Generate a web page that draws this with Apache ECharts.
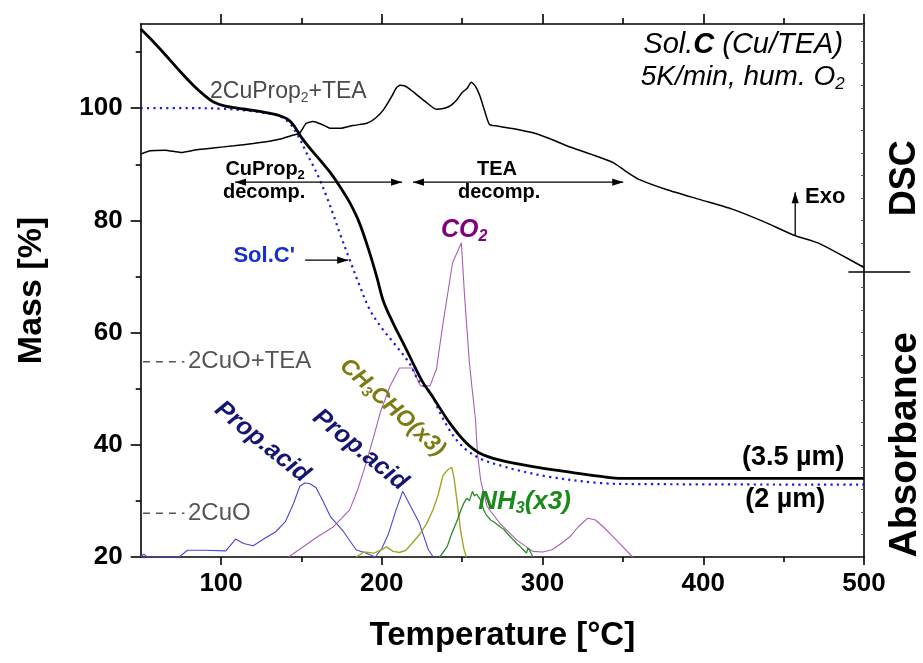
<!DOCTYPE html>
<html>
<head>
<meta charset="utf-8">
<script src="https://cdn.jsdelivr.net/npm/echarts@6/dist/echarts.min.js"></script>
<style>
  html, body { margin: 0; padding: 0; background: #fff; }
  #chart { width: 923px; height: 663px; }
</style>
</head>
<body>
<div id="chart"></div>
<script>
const FONT = '"Liberation Sans", Arial, Helvetica, sans-serif';

// Sol.C thermogravimetry: temperature [°C] and mass [%]
const tgTemp = [50, 58, 66, 75, 83, 90, 96, 102, 110, 120, 130, 137, 142, 146, 150, 156, 162, 168, 174, 180, 186, 192, 197, 201, 207, 213, 219, 225, 232, 242, 252, 261, 273, 294, 315, 335, 350, 400, 500];
const tgMass = [114.1, 111.8, 109.3, 106.4, 104.0, 102.2, 101.0, 100.4, 100.0, 99.6, 99.1, 98.6, 97.9, 96.6, 94.8, 92.6, 90.6, 88.5, 86.0, 83.2, 79.6, 74.6, 69.8, 65.6, 61.7, 58.3, 54.8, 51.4, 48.4, 44.0, 40.5, 38.5, 37.3, 36.1, 35.2, 34.4, 34.0, 34.0, 34.0];

// Sol.C' thermogravimetry
const tgPrimeTemp = [50, 80, 100, 115, 128, 137, 143, 149, 153, 157, 161, 166, 170, 174, 180, 186, 192.5, 200, 209, 217, 223, 230, 236, 242, 247, 253, 263, 274, 284, 304, 335, 360, 500];
const tgPrimeMass = [100.0, 100.0, 99.9, 99.6, 99.1, 98.5, 97.2, 94.5, 92.1, 89.9, 87.5, 84.0, 80.9, 77.6, 73.0, 68.5, 64.1, 60.8, 57.6, 54.6, 51.4, 49.4, 45.8, 42.7, 40.7, 39.0, 37.3, 36.3, 35.5, 34.3, 33.2, 33.0, 32.9];

// DSC signal (arbitrary units, right-hand scale)
const dscTemp = [50, 56, 65, 75, 85, 95, 108, 120, 130, 137, 145, 149, 153, 157, 160, 165, 168, 174, 182, 190.7, 196, 201, 206, 209, 211.4, 214, 217, 220, 227, 234, 239, 243, 247, 250, 253, 255.7, 258, 261, 264, 267, 272, 278, 286, 294, 305, 315, 330, 344, 352, 360, 377, 398, 418, 439, 456, 472, 486, 500];
const dscSignal = [71.8, 72.4, 72.5, 72.1, 72.6, 72.9, 73.3, 73.7, 74.1, 74.5, 75.2, 75.6, 77.3, 77.6, 77.4, 76.8, 76.4, 76.4, 76.9, 77.3, 78.2, 79.7, 82.0, 83.6, 84.1, 84.0, 83.5, 82.8, 81.2, 79.8, 80.0, 80.5, 81.6, 82.8, 83.5, 84.6, 84.0, 82.2, 79.5, 77.1, 76.8, 76.5, 76.1, 75.6, 74.5, 73.3, 71.8, 70.3, 68.7, 67.3, 65.5, 63.7, 62.0, 59.6, 57.4, 55.9, 53.8, 51.6];

// Evolved-gas absorbance (arbitrary units, right-hand scale)
const propTemp = [50, 52, 54, 74, 79, 90, 103, 109, 114, 120, 127, 134, 140, 145, 149, 152, 155, 159, 163, 168, 176, 184, 190, 196, 200, 204, 209, 213, 218, 223, 229, 232];
const propAbs = [0.0, 0.5, 0.0, 0.0, 1.2, 1.2, 1.1, 3.2, 2.4, 2.0, 3.3, 4.5, 6.3, 9.5, 12.6, 13.2, 13.1, 12.4, 10.2, 7.2, 4.6, 1.3, 0.7, 0.0, 1.5, 4.0, 8.5, 11.7, 9.0, 6.3, 1.3, 0.0];

const co2Temp = [142, 150, 160, 170, 180, 185, 190, 195, 199, 205, 211, 219, 224, 230, 234, 238, 244, 249.5, 251.5, 254.5, 256, 258.3, 259.5, 261.5, 265.5, 273.5, 284, 294, 300, 306, 312, 317, 322, 328, 333, 338, 344, 350, 356];
const co2Abs = [0.0, 1.6, 3.6, 5.4, 8.4, 12.0, 16.5, 21.5, 25.7, 30.4, 33.7, 33.7, 30.5, 30.5, 33.5, 41.5, 52.4, 56.0, 46.5, 34.6, 30.5, 24.5, 18.5, 13.7, 9.0, 6.0, 3.0, 1.0, 0.9, 1.3, 2.5, 3.6, 5.3, 6.9, 6.6, 5.3, 3.6, 1.8, 0.0];

const acetTemp = [184, 189, 195, 200, 203, 207, 211, 215, 219, 224, 228, 232, 235, 238, 241, 243.5, 245, 247, 249, 251, 252.6];
const acetAbs = [0.0, 0.9, 0.7, 1.3, 1.8, 1.0, 0.8, 1.2, 2.5, 4.2, 6.0, 8.5, 11.0, 14.5, 15.5, 16.0, 14.0, 9.5, 4.8, 1.5, 0.0];

const nh3Temp = [236, 238, 240.6, 243, 245, 247, 249, 251, 253, 254.5, 256.4, 257.5, 259, 261.4, 263.4, 265, 267.7, 270, 273.6, 276, 278, 280, 282, 284, 286, 288.2, 290, 291, 292.5, 294];
const nh3Abs = [0.0, 0.8, 1.8, 3.8, 5.2, 6.6, 8.2, 9.6, 10.5, 10.0, 11.7, 10.9, 11.2, 10.2, 8.4, 7.5, 6.6, 6.2, 5.4, 4.9, 4.2, 3.6, 3.0, 2.4, 1.9, 1.25, 0.7, 1.6, 0.9, 0.0];

// Axis ticks and labels
const tempTicks = [100, 200, 300, 400, 500];
const tempMinorTicks = [150, 250, 350, 450];
const massTicks = [20, 40, 60, 80, 100];
const massMinorTicks = [30, 50, 70, 90, 110];

// Theoretical residual mass levels
const levelNames = ['2CuO+TEA', '2CuO'];
const levelMass = [54.8, 27.8];

const zip = (xs, ys) => xs.map((x, i) => [x, ys[i]]);

const chart = echarts.init(document.getElementById('chart'), null, { renderer: 'canvas' });

const black = { color: '#000', width: 1.6 };
const tickLabel = { fontSize: 26, fontWeight: 'bold', color: '#000', fontFamily: FONT };

function thinLine(color, width) {
  return { color: color, width: width };
}

chart.setOption({
  animation: false,
  backgroundColor: '#fff',
  grid: { left: 140.7, right: 59, top: 24, bottom: 106, containLabel: false },
  xAxis: [
    {
      type: 'value', min: 50, max: 500, position: 'bottom',
      axisLine: { show: true, onZero: false, lineStyle: black },
      axisTick: { show: true, inside: false, length: 8, customValues: tempTicks, lineStyle: black },
      axisLabel: Object.assign({ customValues: tempTicks, margin: 14 }, tickLabel),
      splitLine: { show: false },
      name: 'Temperature [°C]', nameLocation: 'middle', nameGap: 62,
      nameTextStyle: { fontSize: 33, fontWeight: 'bold', color: '#000', fontFamily: FONT }
    },
    {
      type: 'value', min: 50, max: 500, position: 'bottom',
      axisLine: { show: false },
      axisTick: { show: true, inside: false, length: 5, customValues: tempMinorTicks, lineStyle: black },
      axisLabel: { show: false }, splitLine: { show: false }
    },
    {
      type: 'value', min: 50, max: 500, position: 'top',
      axisLine: { show: true, onZero: false, lineStyle: black },
      axisTick: { show: true, inside: false, length: 10, customValues: tempTicks, lineStyle: black },
      axisLabel: { show: false }, splitLine: { show: false }
    },
    {
      type: 'value', min: 50, max: 500, position: 'top',
      axisLine: { show: false },
      axisTick: { show: true, inside: false, length: 6, customValues: tempMinorTicks, lineStyle: black },
      axisLabel: { show: false }, splitLine: { show: false }
    }
  ],
  yAxis: [
    {
      type: 'value', min: 20, max: 115, position: 'left',
      axisLine: { show: true, onZero: false, lineStyle: black },
      axisTick: { show: true, inside: false, length: 10, customValues: massTicks, lineStyle: black },
      axisLabel: Object.assign({ customValues: massTicks, margin: 18 }, tickLabel),
      splitLine: { show: false },
      name: 'Mass [%]', nameLocation: 'middle', nameGap: 92,
      nameTextStyle: { fontSize: 34, fontWeight: 'bold', color: '#000', fontFamily: FONT }
    },
    {
      type: 'value', min: 20, max: 115, position: 'left',
      axisLine: { show: false },
      axisTick: { show: true, inside: false, length: 5, customValues: massMinorTicks, lineStyle: black },
      axisLabel: { show: false }, splitLine: { show: false }
    },
    {
      type: 'value', min: 0, max: 95, interval: 4, position: 'right',
      axisLine: { show: true, onZero: false, lineStyle: black },
      axisTick: { show: true, inside: true, length: 3, lineStyle: { color: '#555', width: 1 } },
      axisLabel: { show: false }, splitLine: { show: false }
    }
  ],
  series: [
    {
      name: 'Sol.C', type: 'line', data: zip(tgTemp, tgMass), xAxisIndex: 0, yAxisIndex: 0,
      showSymbol: false, symbol: 'none', smooth: 0.35, z: 5,
      lineStyle: { color: '#000', width: 2.8 }
    },
    {
      name: "Sol.C'", type: 'line', data: zip(tgPrimeTemp, tgPrimeMass), xAxisIndex: 0, yAxisIndex: 0,
      showSymbol: false, symbol: 'none', smooth: 0.35, z: 4,
      lineStyle: { color: '#1a1ae0', width: 2.2, type: [2.2, 4.2] }
    },
    {
      name: 'DSC', type: 'line', data: zip(dscTemp, dscSignal), xAxisIndex: 0, yAxisIndex: 2,
      showSymbol: false, symbol: 'none', smooth: 0.2, z: 4,
      lineStyle: thinLine('#000', 1.5)
    },
    {
      name: 'Prop.acid', type: 'line', data: zip(propTemp, propAbs), xAxisIndex: 0, yAxisIndex: 2,
      showSymbol: false, symbol: 'none', z: 3, lineStyle: thinLine('#4848d0', 1.1)
    },
    {
      name: 'CO2', type: 'line', data: zip(co2Temp, co2Abs), xAxisIndex: 0, yAxisIndex: 2,
      showSymbol: false, symbol: 'none', z: 3, lineStyle: thinLine('#a860b4', 1.1)
    },
    {
      name: 'CH3CHO', type: 'line', data: zip(acetTemp, acetAbs), xAxisIndex: 0, yAxisIndex: 2,
      showSymbol: false, symbol: 'none', z: 3, lineStyle: thinLine('#a4a428', 1.4)
    },
    {
      name: 'NH3', type: 'line', data: zip(nh3Temp, nh3Abs), xAxisIndex: 0, yAxisIndex: 2,
      showSymbol: false, symbol: 'none', z: 3, lineStyle: thinLine('#2a8c2a', 1.3)
    }
  ]
});

// ---- annotations, anchored in temperature / mass coordinates ----
function P(t, v) {
  return chart.convertToPixel({ xAxisIndex: 0, yAxisIndex: 0 }, [t, v]);
}

function label(t, v, text, o) {
  o = o || {};
  const p = P(t, v);
  const style = {
    text: text,
    fill: o.fill || '#000',
    fontSize: o.fontSize || 20,
    fontWeight: o.fontWeight || 'normal',
    fontStyle: o.fontStyle || 'normal',
    fontFamily: FONT,
    textAlign: o.align || 'center', align: o.align || 'center',
    textVerticalAlign: 'middle', verticalAlign: 'middle'
  };
  if (o.rich) style.rich = o.rich;
  return { type: 'text', x: p[0], y: p[1], rotation: o.rotation || 0, z: 20, style: style };
}

function arrow(t1, v1, t2, v2, both, color) {
  const a = P(t1, v1), b = P(t2, v2);
  const c = color || '#000';
  const els = [{
    type: 'line', z: 20,
    shape: { x1: a[0], y1: a[1], x2: b[0], y2: b[1] },
    style: { stroke: c, lineWidth: 1.3 }
  }];
  function head(tip, from) {
    const dx = tip[0] - from[0], dy = tip[1] - from[1];
    const len = Math.sqrt(dx * dx + dy * dy);
    const ux = dx / len, uy = dy / len;
    const L = 11, W = 3.6;
    const bx = tip[0] - ux * L, by = tip[1] - uy * L;
    return {
      type: 'polygon', z: 21,
      shape: { points: [[tip[0], tip[1]], [bx - uy * W, by + ux * W], [bx + uy * W, by - ux * W]] },
      style: { fill: c }
    };
  }
  els.push(head(b, a));
  if (both) els.push(head(a, b));
  return els;
}

function subRich(base, color, italic, bold, subSize) {
  const main = { fontSize: base, fontFamily: FONT, fill: color, fontStyle: italic ? 'italic' : 'normal', fontWeight: bold ? 'bold' : 'normal', lineHeight: base + 4 };
  const sub = { fontSize: subSize || Math.round(base * 0.58), fontFamily: FONT, fill: color, fontStyle: italic ? 'italic' : 'normal', fontWeight: bold ? 'bold' : 'normal', lineHeight: 12, verticalAlign: 'bottom' };
  return { m: main, s: sub };
}

const graphics = [];

// title block
graphics.push(label(487, 111.3, '{i|Sol.}{b|C}{i| (Cu/TEA)}', {
  align: 'right',
  rich: {
    i: { fontSize: 29, fontStyle: 'italic', fontFamily: FONT, fill: '#000' },
    b: { fontSize: 29, fontStyle: 'italic', fontWeight: 'bold', fontFamily: FONT, fill: '#000' }
  }
}));
graphics.push(label(488, 105.6, '{m|5K/min, hum. O}{s|2}', { align: 'right', rich: subRich(28, '#000', true, false, 17) }));

// composition labels
graphics.push(label(93.1, 102.9, '{m|2CuProp}{s|2}{m|+TEA}', { align: 'left', rich: subRich(23, '#4a4a4a', false, false, 14) }));
graphics.push(label(127.4, 89.0, '{m|CuProp}{s|2}', { rich: subRich(20, '#000', false, true, 13) }));
graphics.push(label(126.8, 85.0, 'decomp.', { fontSize: 20, fontWeight: 'bold' }));
graphics.push(label(271.7, 89.0, 'TEA', { fontSize: 20, fontWeight: 'bold' }));
graphics.push(label(273.0, 85.0, 'decomp.', { fontSize: 20, fontWeight: 'bold' }));
graphics.push(...arrow(108.7, 86.8, 212.6, 86.8, true));
graphics.push(...arrow(219.4, 86.8, 350.2, 86.8, true));

// Exo marker
graphics.push(label(475.9, 84.2, 'Exo', { fontSize: 22, fontWeight: 'bold' }));
graphics.push(...arrow(457.2, 77.3, 457.2, 85.0, false));

// Sol.C' pointer
graphics.push(label(126.8, 73.6, "Sol.C'", { fontSize: 22, fontWeight: 'bold', fill: '#1530d0' }));
graphics.push(...arrow(152.3, 72.9, 179.1, 72.9, false));

// gas labels
graphics.push(label(251.2, 78.3, '{m|CO}{s|2}', { rich: subRich(25, '#800080', true, true, 16) }));
graphics.push(label(206.5, 46.6, '{m|CH}{s|3}{m|CHO(x3)}', { rotation: -0.74, rich: subRich(23, '#7c7c12', true, true, 15) }));
graphics.push(label(125.5, 40.5, 'Prop.acid', { rotation: -0.68, fontSize: 25, fontWeight: 'bold', fontStyle: 'italic', fill: '#161672' }));
graphics.push(label(186.5, 39.1, 'Prop.acid', { rotation: -0.68, fontSize: 25, fontWeight: 'bold', fontStyle: 'italic', fill: '#161672' }));
graphics.push(label(260.0, 29.8, '{m|NH}{s|3}{m|(x3)}', { align: 'left', rich: subRich(26, '#1a8a1a', true, true, 16) }));

// film thickness labels
graphics.push(label(456.0, 37.8, '(3.5 µm)', { fontSize: 27, fontWeight: 'bold' }));
graphics.push(label(451.0, 30.2, '(2 µm)', { fontSize: 27, fontWeight: 'bold' }));

// theoretical mass levels
levelNames.forEach(function (name, i) {
  const a = P(51.4, levelMass[i]), b = P(77.2, levelMass[i]);
  graphics.push({
    type: 'line', z: 20, shape: { x1: a[0], y1: a[1], x2: b[0], y2: b[1] },
    style: { stroke: '#555', lineWidth: 1.3, lineDash: [7, 6] }
  });
  graphics.push(label(79.4, levelMass[i], name, { align: 'left', fontSize: 24, fill: '#555' }));
});

// right-hand panel titles and divider
graphics.push(label(525.7, 87.5, 'DSC', { rotation: Math.PI / 2, fontSize: 36, fontWeight: 'bold' }));
graphics.push(label(525.7, 40.0, 'Absorbance', { rotation: Math.PI / 2, fontSize: 39, fontWeight: 'bold' }));
(function () {
  const a = P(490.3, 70.8), b = P(528.8, 70.8);
  graphics.push({ type: 'line', z: 20, shape: { x1: a[0], y1: a[1], x2: b[0], y2: b[1] }, style: { stroke: '#000', lineWidth: 1.5 } });
})();

chart.setOption({ graphic: graphics });
</script>
</body>
</html>
